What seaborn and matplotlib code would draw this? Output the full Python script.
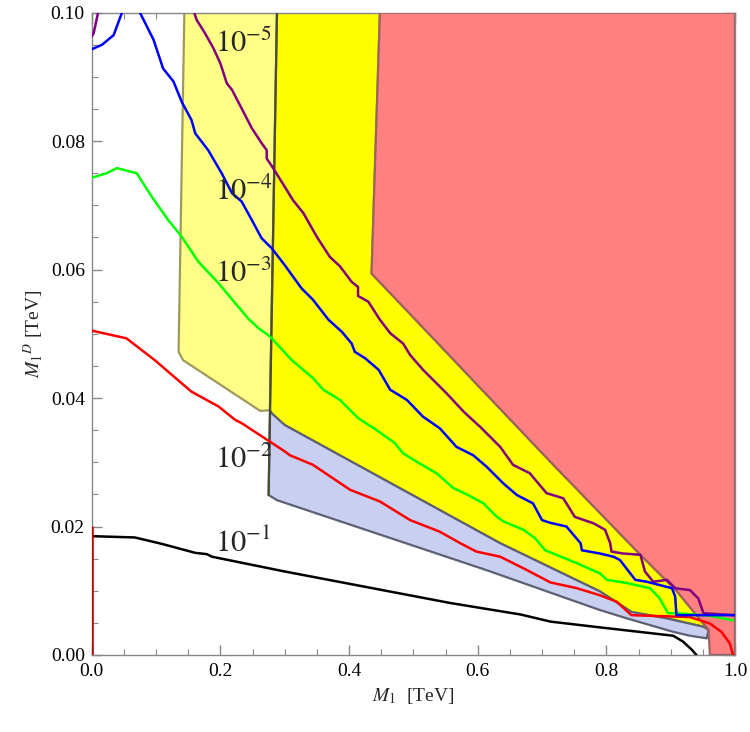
import numpy as np
import pandas as pd
import seaborn as sns
import matplotlib.pyplot as plt
from matplotlib.ticker import MultipleLocator

# contour curves (x = M1 [TeV], y = M1^D [TeV])
black_x = [0.0, 0.067, 0.109, 0.161, 0.179, 0.187, 0.300, 0.557, 0.667, 0.713, 0.790, 0.904, 0.919, 0.933, 0.940]
black_y = [0.0185, 0.0183, 0.0173, 0.0159, 0.0157, 0.0153, 0.0130, 0.0081, 0.0063, 0.0052, 0.0043, 0.0030, 0.0021, 0.0008, 0.0]

red_x = [0.0, 0.054, 0.098, 0.155, 0.197, 0.223, 0.233, 0.300, 0.308, 0.344, 0.402, 0.448, 0.495, 0.541,
         0.573, 0.598, 0.635, 0.675, 0.713, 0.754, 0.790, 0.816, 0.839, 0.930, 0.961, 0.979, 0.992, 0.997]
red_y = [0.0505, 0.0493, 0.0459, 0.0410, 0.0387, 0.0366, 0.0361, 0.0317, 0.0311, 0.0296, 0.0257, 0.0239, 0.0210, 0.0192,
         0.0174, 0.0161, 0.0153, 0.0133, 0.0113, 0.0104, 0.0093, 0.0083, 0.0062, 0.0059, 0.0049, 0.0036, 0.0018, 0.0]
red_edge_x = [0.0, 0.0]
red_edge_y = [0.0, 0.0199]

green_x = [0.0, 0.023, 0.039, 0.054, 0.070, 0.093, 0.119, 0.140, 0.166, 0.197, 0.243, 0.259, 0.277, 0.311,
           0.344, 0.360, 0.386, 0.414, 0.443, 0.471, 0.484, 0.510, 0.536, 0.562, 0.585, 0.609, 0.630, 0.640,
           0.671, 0.689, 0.705, 0.754, 0.790, 0.801, 0.832, 0.868, 0.883, 0.896, 0.909, 0.961, 0.997]
green_y = [0.0743, 0.0750, 0.0758, 0.0754, 0.0750, 0.0714, 0.0677, 0.0651, 0.0612, 0.0579, 0.0524, 0.0509, 0.0496, 0.0459,
           0.0431, 0.0413, 0.0397, 0.0369, 0.0350, 0.0330, 0.0314, 0.0298, 0.0283, 0.0260, 0.0249, 0.0236, 0.0215, 0.0208,
           0.0195, 0.0182, 0.0163, 0.0143, 0.0127, 0.0117, 0.0112, 0.0104, 0.0088, 0.0065, 0.0065, 0.0061, 0.0054]

blue_x = [0.0, 0.016, 0.034, 0.047, 0.061, 0.075, 0.096, 0.111, 0.127, 0.140, 0.155, 0.161, 0.181, 0.202,
          0.218, 0.233, 0.249, 0.264, 0.280, 0.300, 0.313, 0.326, 0.344, 0.368, 0.389, 0.404, 0.409, 0.425,
          0.446, 0.464, 0.490, 0.515, 0.541, 0.567, 0.593, 0.614, 0.640, 0.661, 0.686, 0.700, 0.712, 0.738,
          0.760, 0.762, 0.790, 0.811, 0.821, 0.845, 0.863, 0.902, 0.907, 0.909, 1.0]
blue_y = [0.0943, 0.0950, 0.0965, 0.1000, 0.1030, 0.1000, 0.0958, 0.0913, 0.0893, 0.0861, 0.0833, 0.0812, 0.0786, 0.0750,
          0.0719, 0.0706, 0.0677, 0.0649, 0.0633, 0.0607, 0.0589, 0.0571, 0.0553, 0.0522, 0.0503, 0.0485, 0.0472, 0.0462,
          0.0444, 0.0413, 0.0397, 0.0371, 0.0353, 0.0324, 0.0311, 0.0293, 0.0267, 0.0249, 0.0236, 0.0210, 0.0206, 0.0200,
          0.0174, 0.0163, 0.0158, 0.0153, 0.0148, 0.0117, 0.0114, 0.0104, 0.0091, 0.0062, 0.0062]

purple_a_x = [0.0, 0.003, 0.012]
purple_a_y = [0.0963, 0.0968, 0.1010]
purple_x = [0.156, 0.163, 0.176, 0.189, 0.200, 0.210, 0.218, 0.233, 0.249, 0.264, 0.272, 0.272, 0.282, 0.300,
            0.313, 0.329, 0.350, 0.370, 0.386, 0.404, 0.414, 0.414, 0.430, 0.448, 0.464, 0.484, 0.495, 0.515,
            0.536, 0.552, 0.578, 0.604, 0.614, 0.635, 0.655, 0.681, 0.707, 0.733, 0.751, 0.780, 0.798, 0.806,
            0.808, 0.826, 0.853, 0.860, 0.873, 0.894, 0.907, 0.930, 0.943, 0.951, 1.0]
purple_y = [0.1010, 0.0989, 0.0968, 0.0945, 0.0921, 0.0890, 0.0880, 0.0851, 0.0820, 0.0797, 0.0786, 0.0773, 0.0758, 0.0729,
            0.0708, 0.0688, 0.0651, 0.0620, 0.0605, 0.0581, 0.0573, 0.0559, 0.0550, 0.0522, 0.0501, 0.0485, 0.0467, 0.0444,
            0.0423, 0.0407, 0.0379, 0.0355, 0.0345, 0.0324, 0.0296, 0.0283, 0.0252, 0.0244, 0.0215, 0.0205, 0.0195, 0.0174,
            0.0161, 0.0158, 0.0156, 0.0130, 0.0114, 0.0117, 0.0104, 0.0101, 0.0088, 0.0065, 0.0062]

# excluded / allowed regions (polygon vertices)
pale_x = [0.144, 0.135, 0.142, 0.262, 0.277, 0.288]
pale_y = [0.100, 0.0472, 0.0459, 0.0380, 0.0381, 0.100]

dark_x = [0.288, 0.448, 0.435, 0.712, 0.852, 0.909, 0.959, 0.951, 0.894, 0.839, 0.790, 0.635, 0.300, 0.280, 0.277]
dark_y = [0.100, 0.100, 0.0594, 0.0302, 0.0157, 0.0100, 0.0039, 0.0044, 0.0057, 0.0067, 0.0099, 0.0174, 0.0358, 0.0376, 0.0381]

lav_x = [0.277, 0.275, 0.288, 0.614, 0.790, 0.832, 0.904, 0.930, 0.956, 0.959, 0.951, 0.894, 0.839, 0.790, 0.635, 0.300, 0.280]
lav_y = [0.0381, 0.0249, 0.0241, 0.0132, 0.0070, 0.0057, 0.0036, 0.0030, 0.0026, 0.0039, 0.0044, 0.0057, 0.0067, 0.0099, 0.0174, 0.0358, 0.0376]

redreg_x = [0.448, 1.0, 1.0, 0.961, 0.959, 0.909, 0.852, 0.712, 0.435]
redreg_y = [0.100, 0.100, 0.0, 0.0, 0.0039, 0.0100, 0.0157, 0.0302, 0.0594]

# left edge line of the dark yellow / lavender regions
edge_x = [0.288, 0.275]
edge_y = [0.100, 0.0249]

labels = ["$10^{-5}$", "$10^{-4}$", "$10^{-3}$", "$10^{-2}$", "$10^{-1}$"]
label_y = [0.0939, 0.0709, 0.0581, 0.0291, 0.0161]

sns.set_theme(style="ticks")
plt.rcParams['font.family'] = ['Liberation Serif', 'DejaVu Serif']
plt.rcParams['mathtext.fontset'] = 'stix'

fig = plt.figure(figsize=(7.5, 7.32), dpi=100)
ax = fig.add_axes([0.1223, 0.1052, 0.98 - 0.1223, 0.9827 - 0.1052])

ax.fill(pale_x, pale_y, facecolor="#ffff88", edgecolor="#9e9a5c", lw=1.6, zorder=1)
ax.fill(dark_x, dark_y, facecolor="#ffff00", edgecolor="#9a9400", lw=1.6, zorder=2)
ax.fill(lav_x, lav_y, facecolor="#c9cff1", edgecolor="#5c6070", lw=1.6, zorder=2)
ax.fill(redreg_x, redreg_y, facecolor="#ff8080", edgecolor="#9c6262", lw=1.6, zorder=3)
ax.plot(edge_x, edge_y, color="#4a4a3a", lw=1.6, zorder=3)

curves = [
    (black_x, black_y, "black"),
    (red_x, red_y, "#ff0000"),
    (red_edge_x, red_edge_y, "#c00000"),
    (green_x, green_y, "#00ff00"),
    (purple_a_x, purple_a_y, "#800080"),
    (purple_x, purple_y, "#800080"),
    (blue_x, blue_y, "#0000ff"),
]
for xs, ys, c in curves:
    df = pd.DataFrame({"x": xs, "y": ys})
    sns.lineplot(data=df, x="x", y="y", sort=False, estimator=None, color=c,
                 lw=1.8, ax=ax, zorder=5)

for lab, ly in zip(labels, label_y):
    ax.text(0.192, ly, lab, fontsize=22, ha="left", va="baseline", zorder=6)

ax.set_xlim(0, 1.0)
ax.set_ylim(0, 0.1)
ax.xaxis.set_major_locator(MultipleLocator(0.2))
ax.xaxis.set_minor_locator(MultipleLocator(0.05))
ax.yaxis.set_major_locator(MultipleLocator(0.02))
ax.yaxis.set_minor_locator(MultipleLocator(0.005))
ax.set_xticklabels(["%.1f" % v for v in ax.get_xticks()])
ax.set_yticklabels(["%.2f" % v for v in ax.get_yticks()])
ax.tick_params(which="both", direction="in", top=True, right=True, color="#888888",
               labelsize=14, labelcolor="black")
ax.tick_params(which="major", length=7, width=1)
ax.tick_params(which="minor", length=4, width=0.8)
ax.tick_params(axis="x", pad=6)
ax.tick_params(axis="y", pad=5)
for sp in ax.spines.values():
    sp.set_color("#888888")
    sp.set_linewidth(1)

ax.set_xlabel("$M_1$  [TeV]", fontsize=14, labelpad=4)
ax.set_ylabel("$M_1{}^{D}$ [TeV]", fontsize=14, labelpad=4)

fig.savefig("out.png", dpi=100)
